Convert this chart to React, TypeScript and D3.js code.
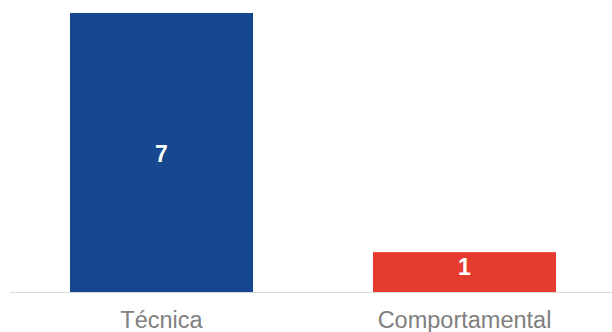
import React from "react";
import * as d3 from "d3";

const categories = ["Técnica", "Comportamental"];
const values = [7, 1];
const colors = ["#17478E", "#E53B2E"];

const W = 612;
const H = 332;

export default function App() {
  const x = d3.scaleBand<string>().domain(categories).range([10, 616]).paddingInner(0.396).paddingOuter(0.198);
  const y = d3.scaleLinear().domain([0, 7]).range([292, 13]);
  const bw = x.bandwidth();
  return (
    <svg width={W} height={H} style={{ position: "absolute", left: 0, top: 0 }} fontFamily="Arial, 'Liberation Sans', sans-serif">
      <rect x={0} y={0} width={W} height={H} fill="#fff" />
      {categories.map((c, i) => {
        const x0 = x(c)!;
        const top = y(values[i]);
        const bottom = y(0);
        const ly = Math.min((top + bottom) / 2 + 1, bottom - 25);
        return (
          <g key={c}>
            <rect x={x0} y={top} width={bw} height={bottom - top} fill={colors[i]} />
            <text x={x0 + bw / 2} y={ly} textAnchor="middle" dominantBaseline="central" fill="#fff" fontWeight="bold" fontSize={23}>
              {values[i]}
            </text>
            <text x={x0 + bw / 2} y={328} textAnchor="middle" fill="#808080" fontSize={23.5}>
              {c}
            </text>
          </g>
        );
      })}
      <line x1={10} x2={612} y1={292.5} y2={292.5} stroke="#d9d9d9" strokeWidth={1} />
    </svg>
  );
}
